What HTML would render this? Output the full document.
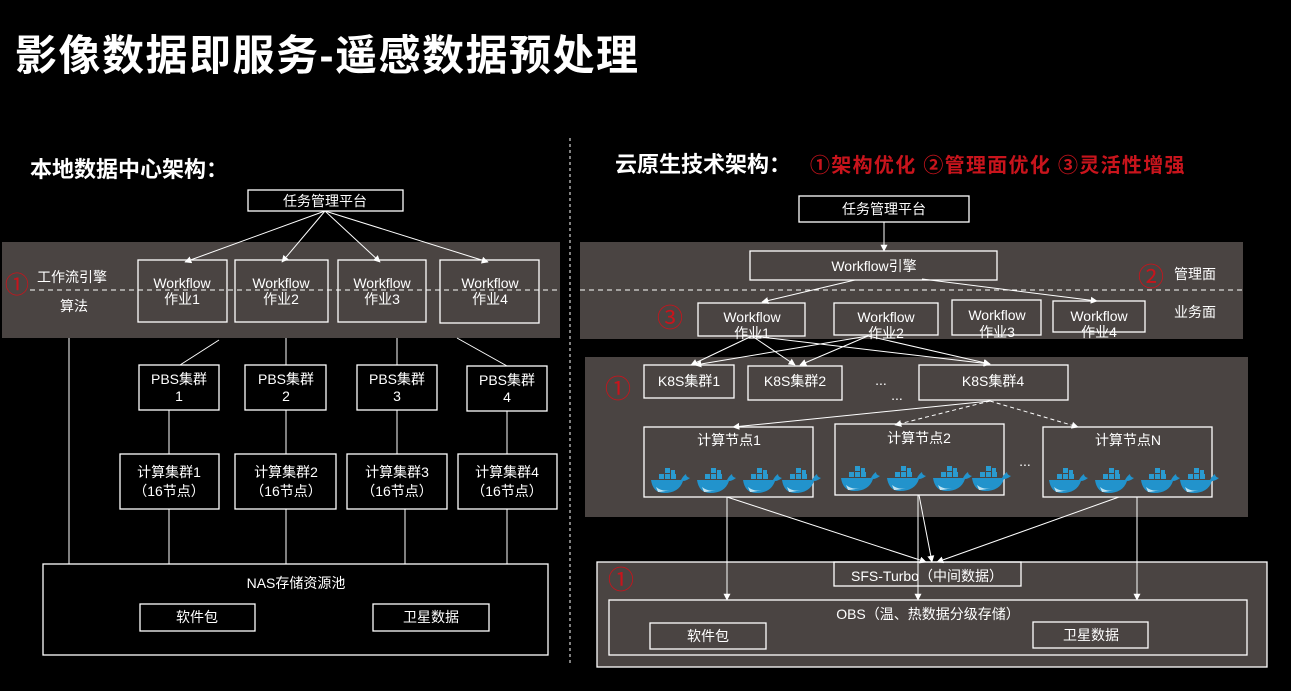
<!DOCTYPE html>
<html><head><meta charset="utf-8"><style>
html,body{margin:0;padding:0;background:#000;}
svg{display:block;}
text{font-family:"Liberation Sans","Noto Sans CJK SC",sans-serif;fill:#fff;}
text.r{fill:#c8141c;}
</style></head><body>
<svg width="1291" height="691" viewBox="0 0 1291 691" xmlns="http://www.w3.org/2000/svg">
<defs>
<marker id="a" viewBox="0 0 10 10" refX="9" refY="5" markerWidth="7" markerHeight="7" orient="auto"><path d="M0 0L10 5L0 10z" fill="#fff"/></marker>
<symbol id="w" viewBox="0 0 40 26">
<rect x="9" y="6" width="5" height="5" fill="#2a9bd0"/><rect x="15" y="6" width="5" height="5" fill="#2a9bd0"/><rect x="21" y="6" width="5" height="5" fill="#2a9bd0"/>
<rect x="15" y="0" width="5" height="5" fill="#2a9bd0"/><rect x="21" y="2" width="4" height="4" fill="#2a9bd0"/>
<path d="M1 12H31Q33 8 36 6Q36 9 40 10Q36 13 33 13Q29 25 14 25Q3 25 1 12Z" fill="#2293cc"/>
<path d="M6 19Q12 24 20 22Q12 24 8 24Z" fill="#bfe3f2"/>
</symbol>
</defs>
<rect width="1291" height="691" fill="#000"/>
<text x="15" y="70" font-size="42" font-weight="bold" letter-spacing="1.5">影像数据即服务-遥感数据预处理</text>

<!-- LEFT -->
<text x="30" y="177" font-size="22" font-weight="bold">本地数据中心架构：</text>
<rect x="2" y="242" width="558" height="96" fill="#4a4442"/>
<line x1="30" y1="290" x2="560" y2="290" stroke="#fff" stroke-dasharray="5,4"/>
<text class="r" x="17" y="293" font-size="24" text-anchor="middle">①</text>
<text x="37" y="282" font-size="14">工作流引擎</text>
<text x="60" y="311" font-size="14">算法</text>
<g fill="none" stroke="#fff" stroke-width="1.3">
<rect x="248" y="190" width="155" height="21"/>
<rect x="138" y="260" width="89" height="62"/><rect x="235" y="260" width="93" height="62"/>
<rect x="338" y="260" width="88" height="62"/><rect x="440" y="260" width="99" height="63"/>
<rect x="139" y="365" width="80" height="45"/><rect x="245" y="365" width="81" height="45"/>
<rect x="357" y="365" width="80" height="45"/><rect x="467" y="366" width="80" height="45"/>
<rect x="120" y="454" width="99" height="55"/><rect x="235" y="454" width="101" height="55"/>
<rect x="347" y="454" width="100" height="55"/><rect x="458" y="454" width="99" height="55"/>
<rect x="43" y="564" width="505" height="91"/>
<rect x="140" y="604" width="115" height="27"/><rect x="373" y="604" width="116" height="27"/>
</g>
<g stroke="#fff" stroke-width="1" marker-end="url(#a)">
<line x1="325" y1="211" x2="185" y2="262"/><line x1="325" y1="211" x2="282" y2="262"/>
<line x1="325" y1="211" x2="380" y2="262"/><line x1="325" y1="211" x2="488" y2="262"/>
</g>
<g stroke="#fff" stroke-width="1">
<line x1="219" y1="340" x2="180" y2="365"/><line x1="286" y1="338" x2="286" y2="365"/>
<line x1="397" y1="338" x2="397" y2="365"/><line x1="457" y1="338" x2="507" y2="366"/>
<line x1="69" y1="338" x2="69" y2="564"/>
<line x1="169" y1="410" x2="169" y2="454"/><line x1="286" y1="410" x2="286" y2="454"/>
<line x1="397" y1="410" x2="397" y2="454"/><line x1="507" y1="411" x2="507" y2="454"/>
<line x1="169" y1="509" x2="169" y2="564"/><line x1="286" y1="509" x2="286" y2="564"/>
<line x1="405" y1="509" x2="405" y2="564"/><line x1="507" y1="509" x2="507" y2="564"/>
</g>
<g font-size="14" text-anchor="middle">
<text x="325" y="206">任务管理平台</text>
<text x="182" y="288">Workflow</text><text x="182" y="304">作业1</text>
<text x="281" y="288">Workflow</text><text x="281" y="304">作业2</text>
<text x="382" y="288">Workflow</text><text x="382" y="304">作业3</text>
<text x="490" y="288">Workflow</text><text x="490" y="304">作业4</text>
<text x="179" y="384">PBS集群</text><text x="179" y="401">1</text>
<text x="286" y="384">PBS集群</text><text x="286" y="401">2</text>
<text x="397" y="384">PBS集群</text><text x="397" y="401">3</text>
<text x="507" y="385">PBS集群</text><text x="507" y="402">4</text>
<text x="169" y="477">计算集群1</text><text x="169" y="496">（16节点）</text>
<text x="286" y="477">计算集群2</text><text x="286" y="496">（16节点）</text>
<text x="397" y="477">计算集群3</text><text x="397" y="496">（16节点）</text>
<text x="507" y="477">计算集群4</text><text x="507" y="496">（16节点）</text>
<text x="296" y="588">NAS存储资源池</text>
<text x="197" y="622">软件包</text><text x="431" y="622">卫星数据</text>
</g>
<line x1="570" y1="138" x2="570" y2="665" stroke="#fff" stroke-dasharray="3,3"/>

<!-- RIGHT -->
<text x="615" y="172" font-size="22" font-weight="bold">云原生技术架构：</text>
<text class="r" x="810" y="172" font-size="20" font-weight="bold" letter-spacing="1.3">①架构优化 ②管理面优化 ③灵活性增强</text>
<rect x="580" y="242" width="663" height="97" fill="#4a4442"/>
<rect x="585" y="357" width="663" height="160" fill="#4a4442"/>
<rect x="597" y="562" width="670" height="105" fill="#4a4442" stroke="#fff" stroke-width="1.3"/>
<line x1="580" y1="290" x2="1243" y2="290" stroke="#fff" stroke-dasharray="5,4"/>
<g font-size="26" text-anchor="middle">
<text class="r" x="1151" y="286">②</text><text class="r" x="670" y="327">③</text>
<text class="r" x="618" y="398">①</text><text class="r" x="621" y="589">①</text>
</g>
<g fill="none" stroke="#fff" stroke-width="1.3">
<rect x="799" y="196" width="170" height="26"/>
<rect x="750" y="251" width="247" height="29"/>
<rect x="698" y="303" width="107" height="33"/><rect x="834" y="303" width="104" height="32"/>
<rect x="952" y="300" width="89" height="35"/><rect x="1053" y="301" width="92" height="31"/>
<rect x="644" y="365" width="90" height="33"/><rect x="748" y="366" width="94" height="34"/>
<rect x="919" y="365" width="149" height="35"/>
<rect x="644" y="427" width="169" height="70"/><rect x="835" y="424" width="169" height="71"/>
<rect x="1043" y="427" width="169" height="70"/>
<rect x="834" y="562" width="187" height="24"/>
<rect x="609" y="600" width="638" height="55"/>
<rect x="650" y="623" width="116" height="26"/><rect x="1033" y="622" width="115" height="26"/>
</g>
<g font-size="14" text-anchor="middle">
<text x="884" y="214">任务管理平台</text>
<text x="874" y="271">Workflow引擎</text>
<text x="1195" y="279" text-anchor="middle">管理面</text>
<text x="1195" y="317">业务面</text>
<text x="752" y="322">Workflow</text><text x="752" y="338">作业1</text>
<text x="886" y="322">Workflow</text><text x="886" y="338">作业2</text>
<text x="997" y="320">Workflow</text><text x="997" y="337">作业3</text>
<text x="1099" y="321">Workflow</text><text x="1099" y="337">作业4</text>
<text x="689" y="386">K8S集群1</text><text x="795" y="386">K8S集群2</text>
<text x="993" y="386">K8S集群4</text>
<text x="881" y="385">...</text><text x="897" y="400">...</text>
<text x="729" y="445">计算节点1</text><text x="919" y="443">计算节点2</text><text x="1128" y="445">计算节点N</text>
<text x="1025" y="466">...</text>
<text x="927" y="581">SFS-Turbo（中间数据）</text>
<text x="928" y="619">OBS（温、热数据分级存储）</text>
<text x="708" y="641">软件包</text><text x="1091" y="640">卫星数据</text>
</g>
<g stroke="#fff" stroke-width="1" marker-end="url(#a)">
<line x1="884" y1="222" x2="884" y2="251"/>
<line x1="855" y1="280" x2="762" y2="302"/><line x1="922" y1="279" x2="1097" y2="301"/>
<line x1="752" y1="336" x2="691" y2="365"/><line x1="752" y1="336" x2="795" y2="365"/><line x1="752" y1="336" x2="990" y2="364"/>
<line x1="868" y1="336" x2="695" y2="365"/><line x1="868" y1="336" x2="800" y2="365"/><line x1="868" y1="336" x2="990" y2="364"/>
<line x1="990" y1="401" x2="733" y2="427"/>
<line x1="990" y1="401" x2="895" y2="425" stroke-dasharray="4,3"/>
<line x1="990" y1="401" x2="1078" y2="427" stroke-dasharray="4,3"/>
<line x1="727" y1="497" x2="727" y2="600"/>
<line x1="727" y1="497" x2="926" y2="562"/>
<line x1="918" y1="495" x2="918" y2="600"/>
<line x1="919" y1="495" x2="932" y2="562"/>
<line x1="1119" y1="497" x2="937" y2="562"/>
<line x1="1137" y1="497" x2="1137" y2="600"/>
</g>
<g>
<use href="#w" x="650" y="468" width="40" height="26"/><use href="#w" x="696" y="468" width="40" height="26"/>
<use href="#w" x="742" y="468" width="40" height="26"/><use href="#w" x="781" y="468" width="40" height="26"/>
<use href="#w" x="840" y="466" width="40" height="26"/><use href="#w" x="886" y="466" width="40" height="26"/>
<use href="#w" x="932" y="466" width="40" height="26"/><use href="#w" x="971" y="466" width="40" height="26"/>
<use href="#w" x="1048" y="468" width="40" height="26"/><use href="#w" x="1094" y="468" width="40" height="26"/>
<use href="#w" x="1140" y="468" width="40" height="26"/><use href="#w" x="1179" y="468" width="40" height="26"/>
</g>
</svg>
</body></html>
